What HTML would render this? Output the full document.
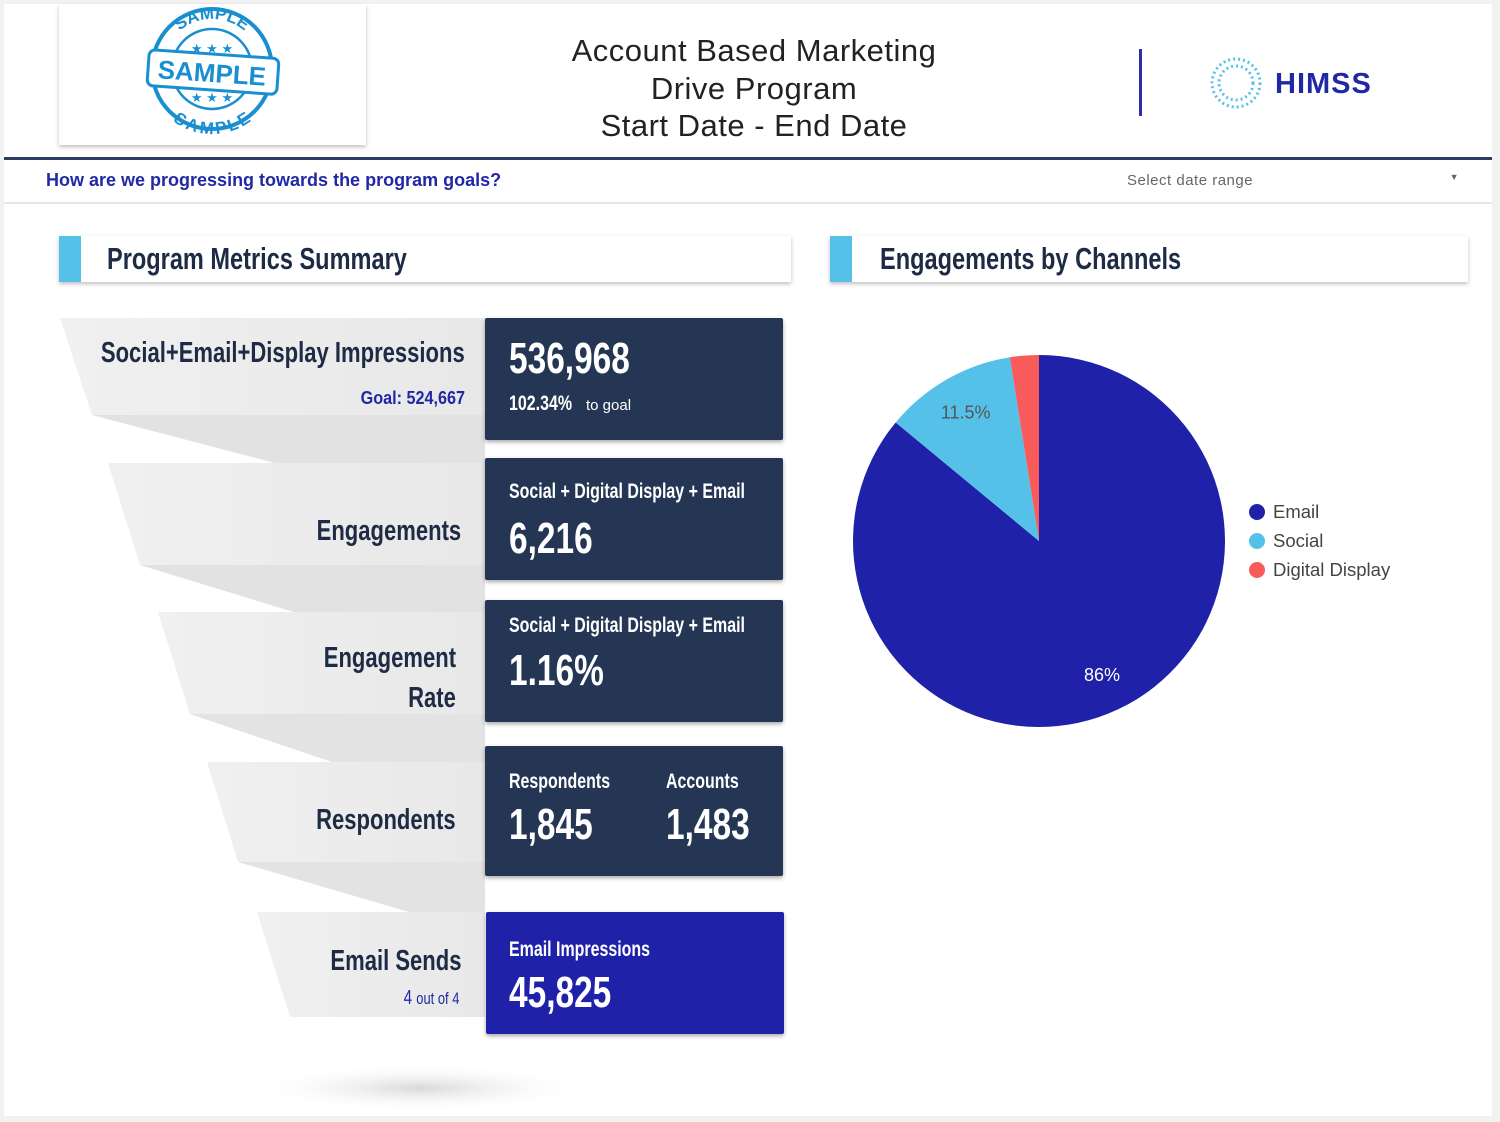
<!DOCTYPE html>
<html><head><meta charset="utf-8">
<style>
*{box-sizing:border-box;margin:0;padding:0}
body{width:1500px;height:1122px;background:#f2f2f2;font-family:"Liberation Sans",sans-serif;position:relative;overflow:hidden}
#page{position:absolute;left:4px;top:4px;width:1488px;height:1112px;background:#fff}
.abs{position:absolute}
.cond{display:inline-block;transform:scaleX(0.76);font-weight:bold;white-space:nowrap}
.card{position:absolute;background:#243654;box-shadow:0 2px 4px rgba(0,0,0,.35);border-radius:2px;color:#fff}
.hdr{position:absolute;height:46px;background:#fff;box-shadow:0 2px 4px rgba(0,0,0,.25)}
.hdr .bar{position:absolute;left:0;top:0;width:22px;height:46px;background:#56c1e8}
</style></head><body>
<div id="page">
  <div class="abs" style="left:55px;top:0;width:307px;height:141px;background:#fff;box-shadow:0 2px 4px rgba(0,0,0,.25)">
    <svg width="307" height="141">
      <defs><path id="arcT" d="M103,65 A50,50 0 0 1 203,65"/><path id="arcB" d="M100,65 A53,53 0 0 0 206,65"/></defs>
      <circle cx="153" cy="65" r="60" fill="none" stroke="#1a8fd0" stroke-width="4"/>
      <circle cx="153" cy="65" r="40" fill="none" stroke="#1a8fd0" stroke-width="2.5"/>
      <text font-size="17" font-weight="bold" fill="#1a8fd0" text-anchor="middle"><textPath href="#arcT" startOffset="50%">SAMPLE</textPath></text>
      <text font-size="17" font-weight="bold" fill="#1a8fd0" text-anchor="middle" dy="12"><textPath href="#arcB" startOffset="50%" side="right">SAMPLE</textPath></text>
      <text x="153" y="49" text-anchor="middle" font-size="13" fill="#1a8fd0">★ ★ ★</text>
      <text x="153" y="98" text-anchor="middle" font-size="13" fill="#1a8fd0">★ ★ ★</text>
      <rect x="89" y="50" width="130" height="36" rx="6" fill="#fff" stroke="#1a8fd0" stroke-width="3" transform="rotate(4 153 68)"/>
      <text x="153" y="78" text-anchor="middle" font-size="26" font-weight="bold" fill="#1a8fd0" font-family="Liberation Sans" transform="rotate(4 153 68)">SAMPLE</text>
    </svg>
  </div>
  <div class="abs" style="left:450px;top:28px;width:600px;text-align:center;font-size:31px;line-height:37.5px;color:#222;letter-spacing:0.5px">Account Based Marketing<br>Drive Program<br>Start Date - End Date</div>
  <div class="abs" style="left:1135px;top:45px;width:3px;height:67px;background:#2b2fa8"></div>
  <svg class="abs" style="left:1205px;top:52px" width="55" height="60">
    <circle cx="27" cy="27" r="24" fill="none" stroke="#56c1e8" stroke-width="3" stroke-dasharray="2 3"/>
    <circle cx="27" cy="27" r="17" fill="none" stroke="#56c1e8" stroke-width="3" stroke-dasharray="2 3"/>
  </svg>
  <div class="abs" style="left:1271px;top:64px;font-size:29px;font-weight:bold;color:#2128a6;letter-spacing:1px">HIMSS</div>
  <div class="abs" style="left:0;top:153px;width:1488px;height:3px;background:#2c3e5e"></div>
  <div class="abs" style="left:42px;top:166px;font-size:18px;font-weight:bold;color:#2128a6">How are we progressing towards the program goals?</div>
  <div class="abs" style="left:1123px;top:168px;width:340px;font-size:15px;color:#666;letter-spacing:0.5px">Select date range<span style="position:absolute;right:8px;top:0;font-size:9px">▼</span></div>
  <div class="abs" style="left:0;top:198px;width:1488px;height:2px;background:#dfeaf0"></div>

  <div class="hdr" style="left:55px;top:232px;width:732px"><div class="bar"></div>
    <div class="abs" style="left:48px;top:5px;font-size:31px;color:#1e2b45"><span class="cond" style="transform-origin:left">Program Metrics Summary</span></div></div>
  <div class="hdr" style="left:826px;top:232px;width:638px"><div class="bar"></div>
    <div class="abs" style="left:50px;top:5px;font-size:31px;color:#1e2b45"><span class="cond" style="transform-origin:left">Engagements by Channels</span></div></div>

  <svg class="abs" style="left:0;top:0" width="800" height="1112">
    <defs><linearGradient id="g" x1="0" x2="1"><stop offset="0" stop-color="#f0f0f0"/><stop offset="1" stop-color="#e8e8e8"/></linearGradient>
    <radialGradient id="sh"><stop offset="0" stop-color="#d8d8d8"/><stop offset="1" stop-color="#fff" stop-opacity="0"/></radialGradient></defs>
    <polygon points="56,314 481,314 481,463 286,463 88,411" fill="url(#g)"/>
    <polygon points="88,411 481,411 481,463 286,463" fill="#e2e2e2"/>
    <polygon points="104,459 481,459 481,613 306,613 136,561" fill="url(#g)"/>
    <polygon points="136,561 481,561 481,613 306,613" fill="#e2e2e2"/>
    <polygon points="154,608 481,608 481,764 346,764 186,710" fill="url(#g)"/>
    <polygon points="186,710 481,710 481,764 346,764" fill="#e3e3e3"/>
    <polygon points="203,758 481,758 481,914 426,914 234,858" fill="url(#g)"/>
    <polygon points="234,858 481,858 481,914 426,914" fill="#e3e3e3"/>
    <polygon points="253,908 481,908 481,1013 286,1013" fill="url(#g)"/>
    <ellipse cx="416" cy="1084" rx="170" ry="24" fill="url(#sh)"/>
  </svg>

  <div class="abs" style="right:1027px;top:333px;font-size:29px;color:#1e2b45"><span class="cond" style="transform-origin:right">Social+Email+Display Impressions</span></div>
  <div class="abs" style="right:1027px;top:384px;font-size:18px;font-weight:bold;color:#2128a6"><span class="cond" style="transform:scaleX(.9);transform-origin:right">Goal: 524,667</span></div>
  <div class="abs" style="right:1031px;top:511px;font-size:29px;color:#1e2b45"><span class="cond" style="transform-origin:right">Engagements</span></div>
  <div class="abs" style="right:1036px;top:634px;font-size:29px;line-height:40px;color:#1e2b45;text-align:right"><span class="cond" style="transform-origin:right">Engagement</span><br><span class="cond" style="transform-origin:right">Rate</span></div>
  <div class="abs" style="right:1036px;top:800px;font-size:29px;color:#1e2b45"><span class="cond" style="transform-origin:right">Respondents</span></div>
  <div class="abs" style="right:1031px;top:941px;font-size:29px;color:#1e2b45"><span class="cond" style="transform-origin:right">Email Sends</span></div>
  <div class="abs" style="right:1033px;top:983px;font-size:20px;color:#2128a6"><span class="cond" style="font-weight:normal;transform-origin:right">4 <span style="font-size:17px">out of 4</span></span></div>

  <div class="card" style="left:481px;top:314px;width:298px;height:122px">
    <div class="abs" style="left:24px;top:16px;font-size:44px"><span class="cond" style="transform-origin:left">536,968</span></div>
    <div class="abs" style="left:24px;top:74px;font-size:21px"><span class="cond" style="transform-origin:left">102.34%</span></div>
    <div class="abs" style="left:101px;top:79px;font-size:15px">to goal</div>
  </div>
  <div class="card" style="left:481px;top:454px;width:298px;height:122px">
    <div class="abs" style="left:24px;top:22px;font-size:21px"><span class="cond" style="transform-origin:left">Social + Digital Display + Email</span></div>
    <div class="abs" style="left:24px;top:56px;font-size:44px"><span class="cond" style="transform-origin:left">6,216</span></div>
  </div>
  <div class="card" style="left:481px;top:596px;width:298px;height:122px">
    <div class="abs" style="left:24px;top:14px;font-size:21px"><span class="cond" style="transform-origin:left">Social + Digital Display + Email</span></div>
    <div class="abs" style="left:24px;top:46px;font-size:44px"><span class="cond" style="transform-origin:left">1.16%</span></div>
  </div>
  <div class="card" style="left:481px;top:742px;width:298px;height:130px">
    <div class="abs" style="left:24px;top:24px;font-size:21px"><span class="cond" style="transform-origin:left">Respondents</span></div>
    <div class="abs" style="left:24px;top:54px;font-size:44px"><span class="cond" style="transform-origin:left">1,845</span></div>
    <div class="abs" style="left:181px;top:24px;font-size:21px"><span class="cond" style="transform-origin:left">Accounts</span></div>
    <div class="abs" style="left:181px;top:54px;font-size:44px"><span class="cond" style="transform-origin:left">1,483</span></div>
  </div>
  <div class="card" style="left:482px;top:908px;width:298px;height:122px;background:#1f22a8">
    <div class="abs" style="left:23px;top:26px;font-size:21px"><span class="cond" style="transform-origin:left">Email Impressions</span></div>
    <div class="abs" style="left:23px;top:56px;font-size:44px"><span class="cond" style="transform-origin:left">45,825</span></div>
  </div>

  <svg id="pie" class="abs" style="left:0;top:0" width="1488" height="1112"></svg>
</div>
<script>
const categories=["Email","Social","Digital Display"];
const values=[86,11.5,2.5];
const labels=["86%","11.5%",""];
const colors=["#1f22a8","#56c1e8","#f95b5b"];
const svg=document.getElementById('pie');
const NS="http://www.w3.org/2000/svg";
const cx=1035,cy=537,r=186;
const total=values.reduce((a,b)=>a+b,0);
function pt(frac,rad){const a=frac*2*Math.PI;return [cx+rad*Math.sin(a),cy-rad*Math.cos(a)];}
let acc=0;
values.forEach((v,i)=>{
  const s=acc/total,e=(acc+v)/total;acc+=v;
  const p0=pt(s,r),p1=pt(e,r);
  const large=(e-s)>0.5?1:0;
  const path=document.createElementNS(NS,'path');
  path.setAttribute('d',`M${cx},${cy} L${p0[0]},${p0[1]} A${r},${r} 0 ${large} 1 ${p1[0]},${p1[1]} Z`);
  path.setAttribute('fill',colors[i]);
  
  
  svg.appendChild(path);
  if(labels[i]){
    const m=(s+e)/2;const lp=pt(m,148);
    const t=document.createElementNS(NS,'text');
    t.setAttribute('x',lp[0]);t.setAttribute('y',lp[1]+6);
    t.setAttribute('text-anchor','middle');t.setAttribute('font-size','18');
    t.setAttribute('font-family','Liberation Sans');
    t.setAttribute('fill',i===0?'#fff':'#555');
    t.textContent=labels[i];
    
    
    svg.appendChild(t);
  }
});
categories.forEach((c,i)=>{
  const y=508+i*29;
  const g=document.createElementNS(NS,'g');
  
  
  const ci=document.createElementNS(NS,'circle');
  ci.setAttribute('cx',1253);ci.setAttribute('cy',y);ci.setAttribute('r',8);ci.setAttribute('fill',colors[i]);
  const t=document.createElementNS(NS,'text');
  t.setAttribute('x',1269);t.setAttribute('y',y+6);t.setAttribute('font-size','18.5');
  t.setAttribute('font-family','Liberation Sans');t.setAttribute('fill','#444');
  t.textContent=c;
  g.appendChild(ci);g.appendChild(t);svg.appendChild(g);
});
</script>
</body></html>
